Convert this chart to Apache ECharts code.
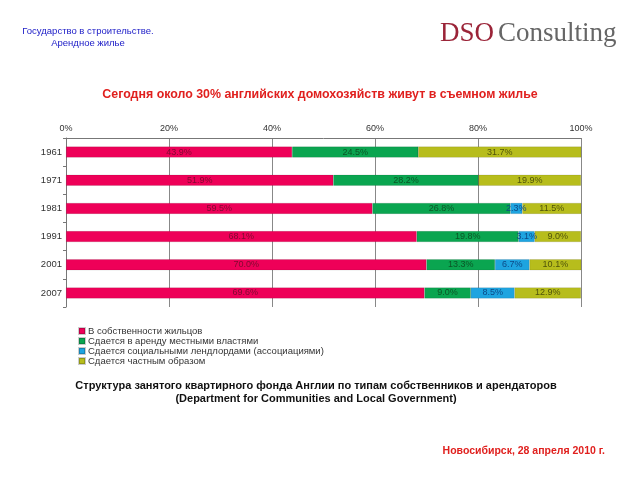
<!DOCTYPE html>
<html><head><meta charset="utf-8">
<script src="https://cdn.jsdelivr.net/npm/echarts@6/dist/echarts.min.js"></script>
<style>html,body{margin:0;padding:0;background:#fff}#c{width:640px;height:480px}</style>
</head><body><div id="c"></div>
<script>
var years = ['1961','1971','1981','1991','2001','2007'];
var owner = [43.9, 51.9, 59.5, 68.1, 70.0, 69.6];
var council = [24.5, 28.2, 26.8, 19.8, 13.3, 9.0];
var social = [0, 0, 2.3, 3.1, 6.7, 8.5];
var privateRent = [31.7, 19.9, 11.5, 9.0, 10.1, 12.9];
var seriesNames = ['В собственности жильцов','Сдается в аренду местными властями','Сдается социальными лендлордами (ассоциациями)','Сдается частным образом'];
var colors = ['#ee0058','#0aa550','#1ea4e0','#b7bd1c'];
var labelColors = ['#7e0a30','#0b5526','#0c4a86','#50540a'];
var dataSets = [owner, council, social, privateRent];

var chart = echarts.init(document.getElementById('c'));
var series = dataSets.map(function(d,i){
  return {
    name: seriesNames[i], type:'bar', stack:'s', data:d, barWidth:11,
    itemStyle:{color:colors[i], borderColor:'rgba(0,0,0,0.2)', borderWidth:0.5},
    label:{show:true, position:'inside', fontSize:9, fontFamily:'Liberation Sans', color:labelColors[i],
      formatter:function(p){return p.value>0 ? p.value.toFixed(1)+'%' : '';}}
  };
});
chart.setOption({
  animation:false,
  color:colors,
  grid:{left:66, right:59, top:138, bottom:173},
  xAxis:{type:'value', position:'top', min:0, max:100, interval:20,
    axisLabel:{formatter:'{value}%', fontSize:9, color:'#333', fontFamily:'Liberation Sans', margin:5},
    axisLine:{show:true, lineStyle:{color:'#777'}},
    axisTick:{show:false},
    splitLine:{show:true, lineStyle:{color:'#888', width:1}}},
  yAxis:{type:'category', data:years, inverse:true,
    axisLabel:{fontSize:9.5, color:'#333', fontFamily:'Liberation Sans', margin:4},
    axisLine:{show:true, lineStyle:{color:'#777'}},
    axisTick:{show:true, length:3, lineStyle:{color:'#777'}}},
  legend:{orient:'vertical', left:73, top:321, itemWidth:6, itemHeight:6, itemGap:0,
    icon:'rect', textStyle:{fontSize:9.5, lineHeight:10, color:'#333', fontFamily:'Liberation Sans', padding:[0,0,0,-2]},
    data:seriesNames},
  series:series,
  graphic:[
    {type:'text', x:88, y:26, style:{text:'Государство в строительстве.\nАрендное жилье', fill:'#2020c8', font:'9.5px Liberation Sans', align:'center', lineHeight:11.5}},
    {type:'text', x:440, y:20, style:{text:'DSO', fill:'#9b2438', font:'27px Liberation Serif'}},
    {type:'text', x:498, y:20, style:{text:'Consulting', fill:'#666', font:'27px Liberation Serif'}},
    {type:'text', x:320, y:89, style:{text:'Сегодня около 30% английских домохозяйств живут в съемном жилье', fill:'#e0201e', font:'bold 12.4px Liberation Sans', align:'center'}},
    {type:'text', x:316, y:379, style:{text:'Структура занятого квартирного фонда Англии по типам собственников и арендаторов\n(Department for Communities and Local Government)', fill:'#111', font:'bold 11px Liberation Sans', align:'center', lineHeight:13}},
    {type:'text', x:605, y:446, style:{text:'Новосибирск, 28 апреля 2010 г.', fill:'#e0201e', font:'bold 10.5px Liberation Sans', align:'right'}}
  ]
});
</script></body></html>
